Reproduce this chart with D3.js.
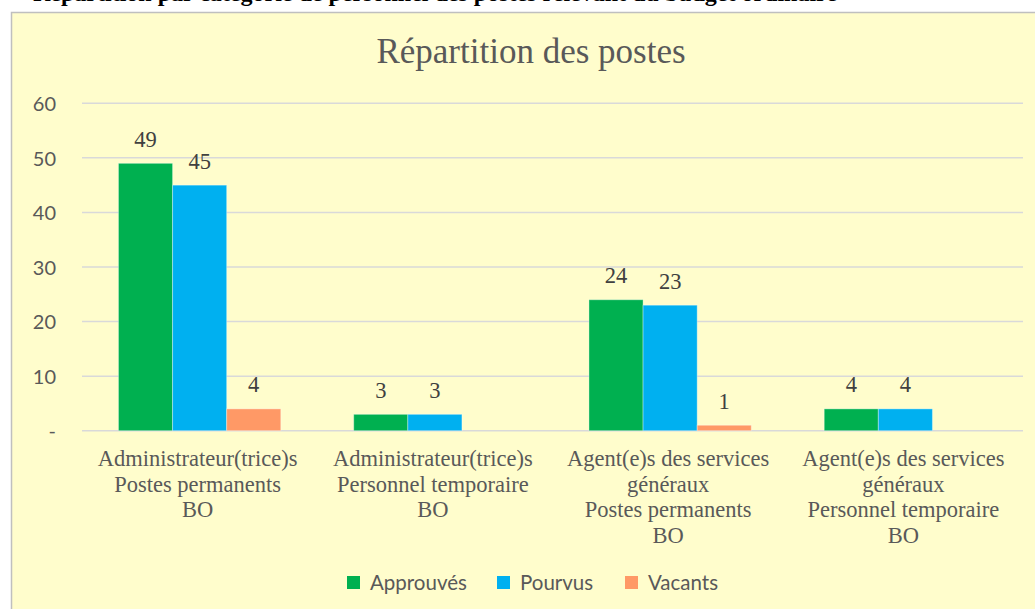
<!DOCTYPE html>
<html>
<head>
<meta charset="utf-8">
<script src="https://cdn.jsdelivr.net/npm/d3@7"></script>
<style>
  body { margin: 0; background: #fff; }
  svg { display: block; }
</style>
</head>
<body>
<svg id="canvas" width="1035" height="609"></svg>
<script>
var categories = [
  ["Administrateur(trice)s", "Postes permanents", "BO"],
  ["Administrateur(trice)s", "Personnel temporaire", "BO"],
  ["Agent(e)s des services", "généraux", "Postes permanents", "BO"],
  ["Agent(e)s des services", "généraux", "Personnel temporaire", "BO"]
];
var seriesNames = ["Approuvés", "Pourvus", "Vacants"];
var approuves = [49, 3, 24, 4];
var pourvus = [45, 3, 23, 4];
var vacants = [4, null, 1, null];
var yTicks = [0, 10, 20, 30, 40, 50, 60];
var colors = ["#00B050", "#00B0F0", "#FF9966"];

var svg = d3.select("#canvas"),
  width = +svg.attr("width"),
  height = +svg.attr("height");

// heading of the page, cut off by the top edge as in the source
svg.append("text")
  .attr("x", 33).attr("y", 1)
  .style("font", "bold 24px 'Liberation Serif', serif")
  .attr("fill", "#000")
  .text("Répartition par catégorie de personnel des postes relevant du budget ordinaire");

svg.append("rect")
  .attr("x", 11.5).attr("y", 12.5)
  .attr("width", 1040).attr("height", 620)
  .attr("fill", "#FFFDCC")
  .attr("stroke", "#BFBFBF")
  .attr("stroke-width", 1.5);

svg.append("text")
  .attr("x", 531).attr("y", 63)
  .attr("text-anchor", "middle")
  .style("font", "35px 'Liberation Serif', serif")
  .attr("fill", "#595959")
  .text("Répartition des postes");

var x0 = d3.scaleBand()
  .domain(d3.range(categories.length))
  .range([82, 1023])
  .paddingInner(0.31)
  .paddingOuter(0.155);

var x1 = d3.scaleBand()
  .domain(seriesNames)
  .range([0, x0.bandwidth()]);

var y = d3.scaleLinear()
  .domain([0, 60])
  .range([430.7, 103.3]);

var grid = svg.append("g");
grid.selectAll("line")
  .data(yTicks)
  .enter().append("line")
  .attr("x1", 82).attr("x2", 1023)
  .attr("y1", function(d) { return y(d); })
  .attr("y2", function(d) { return y(d); })
  .attr("stroke", "#D9D9D9")
  .attr("stroke-width", 1.5);

var yAxis = d3.axisLeft(y)
  .tickValues(yTicks)
  .tickSize(0)
  .tickPadding(0)
  .tickFormat(function(d) { return d === 0 ? "-" : d; });

var ya = svg.append("g")
  .attr("transform", "translate(56,0)")
  .call(yAxis);
ya.select(".domain").remove();
ya.selectAll("text")
  .attr("fill", "#595959")
  .attr("dy", "0.36em")
  .style("font", "20px Lato, 'Liberation Sans', sans-serif");

var series = [approuves, pourvus, vacants];
var rows = [];
categories.forEach(function(c, i) {
  seriesNames.forEach(function(s, j) {
    rows.push({ cat: i, name: s, idx: j, value: series[j][i] });
  });
});

var bars = svg.append("g").selectAll("g")
  .data(rows.filter(function(d) { return d.value != null; }))
  .enter().append("g");

bars.append("rect")
  .attr("x", function(d) { return x0(d.cat) + x1(d.name); })
  .attr("width", x1.bandwidth())
  .attr("y", function(d) { return y(d.value); })
  .attr("height", function(d) { return y(0) - y(d.value); })
  .attr("fill", function(d) { return colors[d.idx]; })
  .attr("stroke", "#ffffff")
  .attr("stroke-opacity", 0.35)
  .attr("stroke-width", 1);

bars.append("text")
  .attr("x", function(d) { return x0(d.cat) + x1(d.name) + x1.bandwidth() / 2; })
  .attr("y", function(d) { return y(d.value) - 16.5; })
  .attr("text-anchor", "middle")
  .style("font", "22.5px 'Liberation Serif', serif")
  .attr("fill", "#404040")
  .text(function(d) { return d.value; });

var catLabels = svg.append("g").selectAll("text")
  .data(categories)
  .enter().append("text")
  .attr("text-anchor", "middle")
  .style("font", "22.5px 'Liberation Serif', serif")
  .attr("fill", "#595959");

catLabels.selectAll("tspan")
  .data(function(d, i) { return d.map(function(t) { return { t: t, i: i }; }); })
  .enter().append("tspan")
  .attr("x", function(d) { return x0(d.i) + x0.bandwidth() / 2 - 2; })
  .attr("y", function(d, k) { return 466 + k * 25.7; })
  .text(function(d) { return d.t; });

var legendX = [347, 497, 625];
var legend = svg.append("g").selectAll("g")
  .data(seriesNames)
  .enter().append("g")
  .attr("transform", function(d, i) { return "translate(" + legendX[i] + ",576)"; });

legend.append("rect")
  .attr("width", 13).attr("height", 13)
  .attr("fill", function(d, i) { return colors[i]; });

legend.append("text")
  .attr("x", 23).attr("y", 13.5)
  .style("font", "20.5px Lato, 'Liberation Sans', sans-serif")
  .attr("fill", "#595959")
  .text(function(d) { return d; });
</script>
</body>
</html>
